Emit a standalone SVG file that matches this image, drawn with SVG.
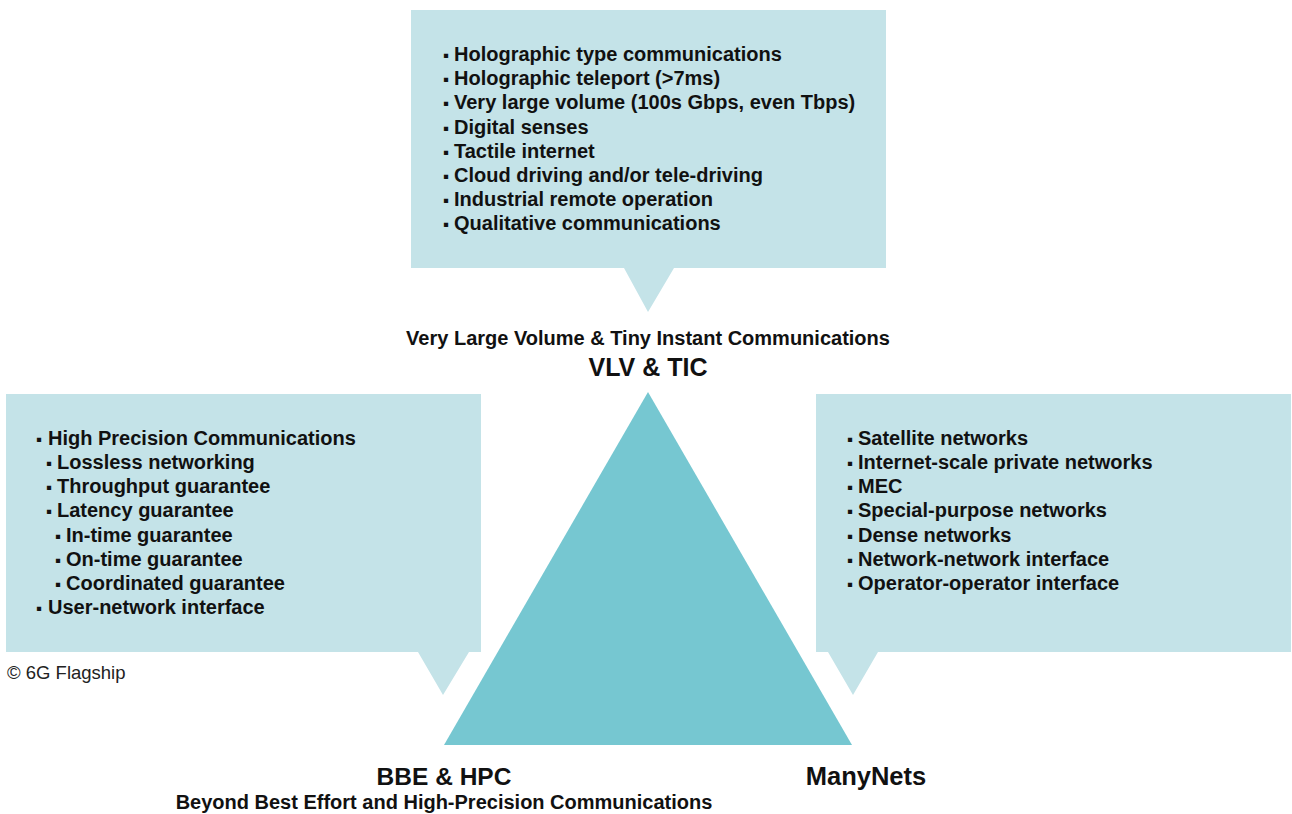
<svg xmlns="http://www.w3.org/2000/svg" width="1292" height="814" viewBox="0 0 1292 814">
<style>
.box{fill:#c4e3e8}
.tri{fill:#76c7d1}
.t{font-family:"Liberation Sans",Arial,sans-serif;font-weight:bold;font-size:20px;fill:#111}
.b{font-size:17px}
.title{font-family:"Liberation Sans",Arial,sans-serif;font-weight:bold;fill:#111;text-anchor:middle}
.cr{font-family:"Liberation Sans",Arial,sans-serif;font-size:18.5px;fill:#222}
</style>
<rect width="1292" height="814" fill="#fff"/>
<g id="center-triangle">
<polygon class="tri" points="648,392 444,745 852,745"/>
</g>
<g id="connectors"></g>
<g id="vlv-box">
<polygon class="box" points="411,10 886,10 886,268 674,268 648,312 624,268 411,268"/>
<text class="t">
<tspan class="b" x="443" y="61">▪</tspan><tspan x="454" y="61">Holographic type communications</tspan>
<tspan class="b" x="443" y="85">▪</tspan><tspan x="454" y="85">Holographic teleport (&gt;7ms)</tspan>
<tspan class="b" x="443" y="109">▪</tspan><tspan x="454" y="109">Very large volume (100s Gbps, even Tbps)</tspan>
<tspan class="b" x="443" y="134">▪</tspan><tspan x="454" y="134">Digital senses</tspan>
<tspan class="b" x="443" y="158">▪</tspan><tspan x="454" y="158">Tactile internet</tspan>
<tspan class="b" x="443" y="182">▪</tspan><tspan x="454" y="182">Cloud driving and/or tele-driving</tspan>
<tspan class="b" x="443" y="206">▪</tspan><tspan x="454" y="206">Industrial remote operation</tspan>
<tspan class="b" x="443" y="230">▪</tspan><tspan x="454" y="230">Qualitative communications</tspan>
</text>
</g>
<g id="bbe-box">
<polygon class="box" points="6,394 481,394 481,652 469,652 443,695 418,652 6,652"/>
<text class="t">
<tspan class="b" x="36" y="445">▪</tspan><tspan x="48" y="445">High Precision Communications</tspan>
<tspan class="b" x="46" y="469">▪</tspan><tspan x="57" y="469">Lossless networking</tspan>
<tspan class="b" x="46" y="493">▪</tspan><tspan x="57" y="493">Throughput guarantee</tspan>
<tspan class="b" x="46" y="517">▪</tspan><tspan x="57" y="517">Latency guarantee</tspan>
<tspan class="b" x="55" y="542">▪</tspan><tspan x="66" y="542">In-time guarantee</tspan>
<tspan class="b" x="55" y="566">▪</tspan><tspan x="66" y="566">On-time guarantee</tspan>
<tspan class="b" x="55" y="590">▪</tspan><tspan x="66" y="590">Coordinated guarantee</tspan>
<tspan class="b" x="36" y="614">▪</tspan><tspan x="48" y="614">User-network interface</tspan>
</text>
</g>
<g id="manynets-box">
<polygon class="box" points="816,394 1291,394 1291,652 878,652 853,695 828,652 816,652"/>
<text class="t">
<tspan class="b" x="847" y="445">▪</tspan><tspan x="858" y="445">Satellite networks</tspan>
<tspan class="b" x="847" y="469">▪</tspan><tspan x="858" y="469">Internet-scale private networks</tspan>
<tspan class="b" x="847" y="493">▪</tspan><tspan x="858" y="493">MEC</tspan>
<tspan class="b" x="847" y="517">▪</tspan><tspan x="858" y="517">Special-purpose networks</tspan>
<tspan class="b" x="847" y="542">▪</tspan><tspan x="858" y="542">Dense networks</tspan>
<tspan class="b" x="847" y="566">▪</tspan><tspan x="858" y="566">Network-network interface</tspan>
<tspan class="b" x="847" y="590">▪</tspan><tspan x="858" y="590">Operator-operator interface</tspan>
</text>
</g>
<g id="labels">
<text class="title" x="648" y="345" font-size="20">Very Large Volume &amp; Tiny Instant Communications</text>
<text class="title" x="648" y="376" font-size="25">VLV &amp; TIC</text>
<text class="title" x="444" y="785" font-size="24.5">BBE &amp; HPC</text>
<text class="title" x="444" y="809" font-size="20">Beyond Best Effort and High-Precision Communications</text>
<text class="title" x="866" y="785" font-size="25.5">ManyNets</text>
<text class="cr" x="7" y="679">© 6G Flagship</text>
</g>
</svg>
